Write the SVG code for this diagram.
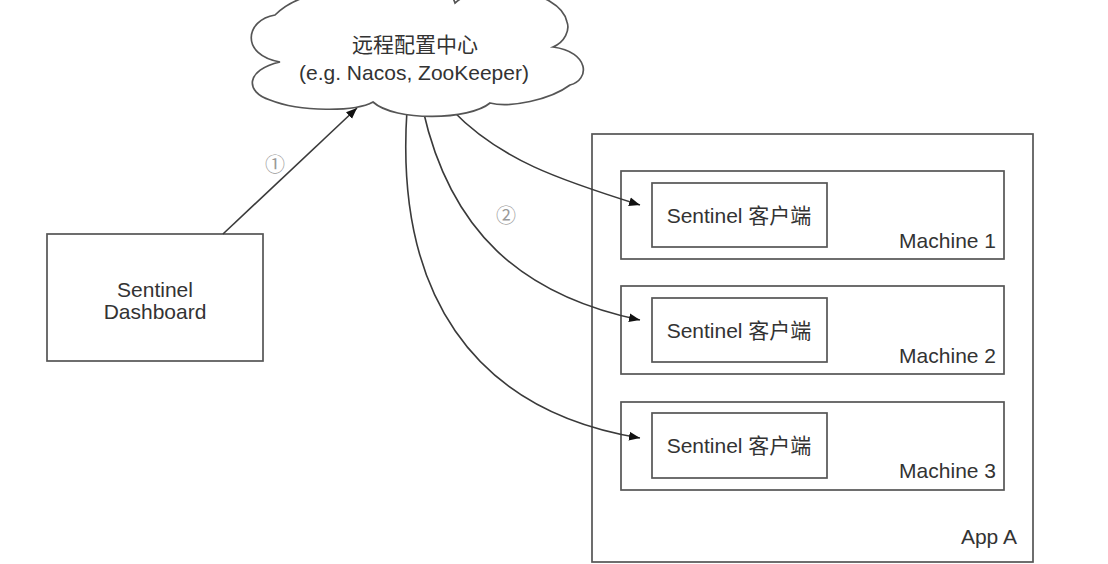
<svg xmlns="http://www.w3.org/2000/svg" width="1108" height="564" viewBox="0 0 1108 564">
<defs>
<style>
.box{fill:#fff;stroke:#555;stroke-width:1.7}
.t{font-family:"Liberation Sans","Noto Sans CJK SC",sans-serif;font-size:21px;fill:#333}
.n{font-family:"Liberation Sans","Noto Sans CJK SC",sans-serif;font-size:20px;fill:#999}
.c{fill:none;stroke:#3a3a3a;stroke-width:1.6}
</style>
<marker id="ah" viewBox="0 0 10 10" refX="10" refY="5" markerWidth="11" markerHeight="11" markerUnits="userSpaceOnUse" orient="auto">
<path d="M0,1 L10,5 L0,9 Z" fill="#111"/>
</marker>
</defs>
<rect width="1108" height="564" fill="#fff"/>
<g id="appA">
<rect class="box" x="592" y="134" width="441" height="428"/>
<text class="t" x="1017" y="544" text-anchor="end">App A</text>
</g>
<g id="machine1">
<rect class="box" x="621" y="171" width="383" height="88"/>
<text class="t" x="996" y="248" text-anchor="end">Machine 1</text>
</g>
<g id="client1">
<rect class="box" x="652" y="183" width="175" height="64"/>
<text class="t" x="739" y="223" text-anchor="middle">Sentinel 客户端</text>
</g>
<g id="machine2">
<rect class="box" x="621" y="286" width="383" height="88"/>
<text class="t" x="996" y="363" text-anchor="end">Machine 2</text>
</g>
<g id="client2">
<rect class="box" x="652" y="298" width="175" height="64"/>
<text class="t" x="739" y="338" text-anchor="middle">Sentinel 客户端</text>
</g>
<g id="machine3">
<rect class="box" x="621" y="402" width="383" height="88"/>
<text class="t" x="996" y="478" text-anchor="end">Machine 3</text>
</g>
<g id="client3">
<rect class="box" x="652" y="413" width="175" height="65"/>
<text class="t" x="739" y="453" text-anchor="middle">Sentinel 客户端</text>
</g>
<g id="dashboard">
<rect class="box" x="47" y="234" width="216" height="127"/>
<text class="t" x="155" y="297" text-anchor="middle">Sentinel</text>
<text class="t" x="155" y="319" text-anchor="middle">Dashboard</text>
</g>
<g id="connectors">
<path class="c" d="M223,234 L357,108" marker-end="url(#ah)"/>
<path class="c" d="M452,110 C500,160 560,180 640,205" marker-end="url(#ah)"/>
<path class="c" d="M423,110 C450,230 520,295 640,320" marker-end="url(#ah)"/>
<path class="c" d="M407,110 C395,290 470,410 640,438" marker-end="url(#ah)"/>
<text class="n" x="275" y="172" text-anchor="middle">①</text>
<text class="n" x="506" y="223" text-anchor="middle">②</text>
</g>
<g id="configCenter">
<path class="box" d="M373,102 C355,112 300,112 270,100 C245,92 245,70 280,62 C240,55 245,20 275,15 C290,0 320,-12 345,-4 C370,-40 440,-40 455,3 C480,-20 560,-12 567,22 C570,30 565,42 553,47 C590,52 590,80 570,85 C550,100 510,108 490,103 C470,120 395,122 373,102 Z"/>
<text class="t" x="415" y="52" text-anchor="middle">远程配置中心</text>
<text class="t" x="414" y="80" text-anchor="middle">(e.g. Nacos, ZooKeeper)</text>
</g>
</svg>
